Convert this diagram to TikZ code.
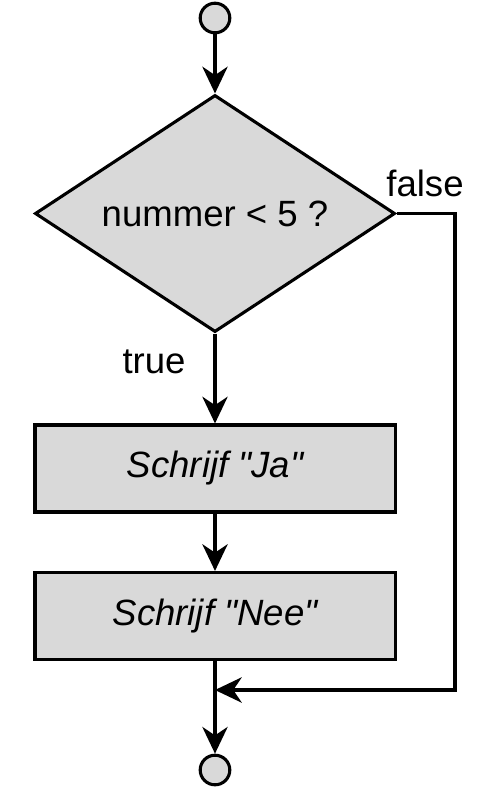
\documentclass[tikz,border=0pt]{standalone}
\usepackage{fontspec}
\setmainfont{Liberation Sans}[Ligatures=TeXOff]
\usepackage{tikz}
\usetikzlibrary{arrows.meta,shapes.geometric}
\definecolor{boxgray}{RGB}{217,217,217}

\begin{document}
\begin{tikzpicture}[x=0.025cm, y=-0.025cm,
      every node/.style = {font=\fontsize{26}{30}\selectfont},
      flow/.style = {arrows={-Stealth[length = 19pt, width = 18pt, inset = 6pt]}, line width = 2.2pt},
      terminal/.style = {circle, draw, line width = 2.2pt, fill = boxgray, minimum size = 0.74cm, inner sep = 0pt},
      decision/.style = {diamond, draw, line width = 2.2pt, fill = boxgray, inner sep = 0pt, shape aspect = 1.52,
                         minimum width = 9cm, minimum height = 5.925cm},
      statement/.style = {rectangle, draw, line width = 2.2pt, fill = boxgray,
                          minimum width = 9cm, minimum height = 2.175cm, font=\fontsize{26}{30}\selectfont\itshape}]
            \useasboundingbox (0,0) rectangle (483,789);
            \node [terminal] (start-circle) at (215,18){};
            \node [decision] (check-number) at (215,213.5){nummer < 5 ?};
            \node [statement] (write-yes) at (215,468.5){Schrijf "Ja"};
            \node [statement] (write-no) at (215,616){Schrijf "Nee"};
            \node [terminal] (end-circle) at (215,770){};
            \coordinate (merge-point) at (215,690);
            \draw [flow] (start-circle) -- (check-number);
            \draw [flow] (check-number) -- (write-yes);
            \draw [flow] (write-yes) -- (write-no);
            \draw [line width = 2.2pt] (write-no) -- (merge-point);
            \draw [flow] (merge-point) -- (end-circle);
            \draw [flow] (check-number.east) -- (455,213.5) -- (455,690) -- (merge-point);
            \node (true-label) at (154,362){true};
            \node (false-label) at (425,183){false};
         \end{tikzpicture}
\end{document}
